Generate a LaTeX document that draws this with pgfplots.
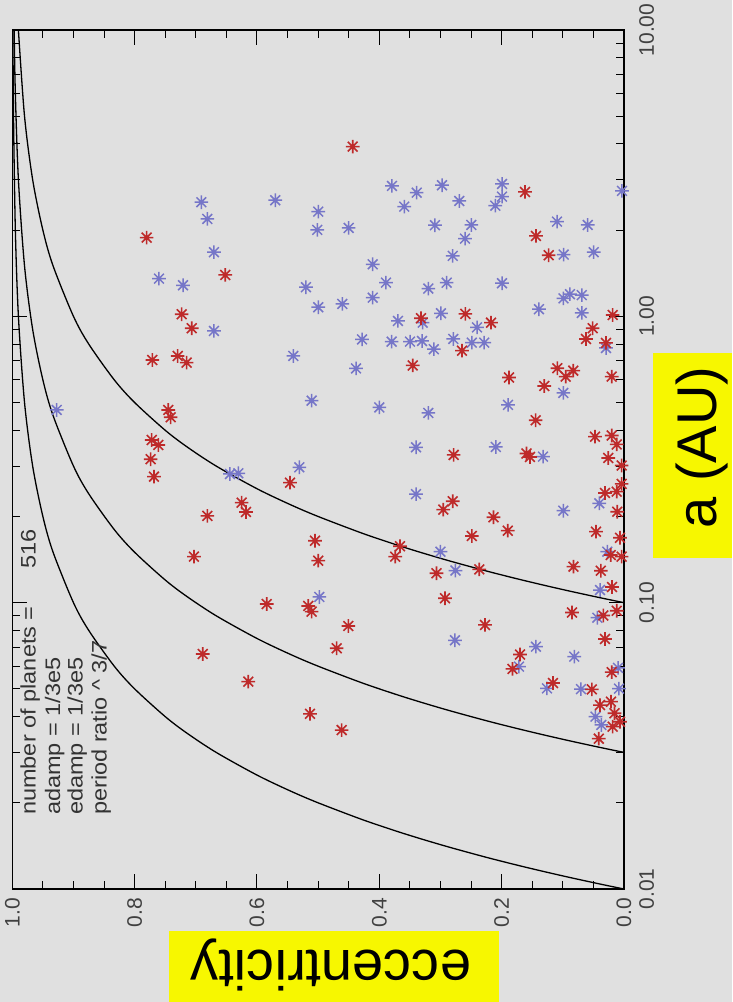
\documentclass[border=0pt]{standalone}
\usepackage{pgfplots}
\pgfplotsset{compat=1.18}
\usepackage{fontspec}
\setmainfont{Liberation Sans}
\newfontfamily\annfont[FakeStretch=1.12]{Liberation Sans}
\definecolor{bgc}{RGB}{224,224,224}
\definecolor{yel}{RGB}{247,247,0}
\definecolor{redc}{RGB}{190,42,42}
\definecolor{bluec}{RGB}{118,118,200}
\pgfdeclareplotmark{ast8}{%
  \pgfpathmoveto{\pgfqpoint{-\pgfplotmarksize}{0pt}}\pgfpathlineto{\pgfqpoint{\pgfplotmarksize}{0pt}}%
  \pgfpathmoveto{\pgfqpoint{0pt}{-\pgfplotmarksize}}\pgfpathlineto{\pgfqpoint{0pt}{\pgfplotmarksize}}%
  \pgfpathmoveto{\pgfqpoint{-0.72\pgfplotmarksize}{-0.72\pgfplotmarksize}}\pgfpathlineto{\pgfqpoint{0.72\pgfplotmarksize}{0.72\pgfplotmarksize}}%
  \pgfpathmoveto{\pgfqpoint{-0.72\pgfplotmarksize}{0.72\pgfplotmarksize}}\pgfpathlineto{\pgfqpoint{0.72\pgfplotmarksize}{-0.72\pgfplotmarksize}}%
  \pgfusepathqstroke}
\begin{document}
\begin{tikzpicture}[x=1pt,y=1pt]
\fill[bgc] (0,0) rectangle (732,1002);
\begin{axis}[
  at={(12.3pt,113pt)}, anchor=south west,
  scale only axis, width=611.7pt, height=859pt,
  xmin=0, xmax=1, x dir=reverse,
  ymode=log, ymin=0.01, ymax=10,
  axis line style={black, line width=1.1pt},
  tick align=inside,
  major tick length=15pt, minor tick length=8pt,
  tick style={black, line width=1pt},
  xtick={0,0.2,0.4,0.6,0.8,1.0},
  xticklabels={0.0,0.2,0.4,0.6,0.8,1.0},
  minor x tick num=3,
  ytick={0.01,0.1,1,10},
  yticklabels={0.01,0.10,1.00,10.00},
  yticklabel pos=right,
  xtick pos=both, ytick pos=both,
  xticklabel style={yshift=-9pt, rotate=90, anchor=east, inner sep=0pt, font=\fontsize{21}{25}\selectfont, text=black!75},
  yticklabel style={xshift=15pt, rotate=90, anchor=north, inner sep=0pt, font=\fontsize{21}{25}\selectfont, text=black!75},
  clip=true,
]
% blue planets
\addplot[only marks, mark=ast8, mark size=6.8pt, draw=bluec, mark options={line width=1.5pt}] coordinates {
(0.691,2.503) (0.5701,2.544) (0.4998,2.321) (0.6812,2.189) (0.5014,2.004) (0.4501,2.036)
(0.6703,1.675) (0.7602,1.354) (0.7209,1.284) (0.5199,1.264) (0.4998,1.076) (0.4605,1.105)
(0.6703,0.8892) (0.4283,0.8305) (0.3793,2.854) (0.3389,2.704) (0.2975,2.870) (0.3592,2.416)
(0.2693,2.529) (0.1994,2.900) (0.1994,2.619) (0.2104,2.435) (0.0033,2.742) (0.309,2.081)
(0.2496,2.085) (0.2599,1.868) (0.1095,2.142) (0.0593,2.085) (0.0986,1.643) (0.0495,1.675)
(0.28,1.626) (0.4108,1.520) (0.3891,1.311) (0.4108,1.162) (0.3199,1.250) (0.2899,1.311)
(0.1994,1.305) (0.139,1.059) (0.0989,1.155) (0.0883,1.195) (0.069,1.186) (0.069,1.028)
(0.3291,0.9506) (0.3695,0.9636) (0.2992,1.025) (0.2403,0.9147) (0.2791,0.8337) (0.3798,0.8159)
(0.3498,0.8159) (0.3302,0.8204) (0.3109,0.768) (0.2488,0.8093) (0.2285,0.8093) (0.0294,0.7754)
(0.5406,0.7272) (0.4381,0.6577) (0.0992,0.5402) (0.4,0.4808) (0.3199,0.4599) (0.1896,0.4905)
(0.5106,0.5077) (0.9274,0.471) (0.34,0.3489) (0.2096,0.3498) (0.1324,0.3236) (0.6441,0.2815)
(0.6305,0.2831) (0.5308,0.2971) (0.34,0.2393) (0.0992,0.2095) (0.0404,0.2224) (0.0273,0.1507)
(0.0392,0.1107) (0.0436,0.0886) (0.4981,0.1047) (0.3,0.1507) (0.2755,0.1295) (0.2763,0.0739)
(0.1439,0.0702) (0.0813,0.0648) (0.0098,0.0592) (0.1717,0.0598) (0.1259,0.0502) (0.0703,0.0499)
(0.0082,0.0501) (0.0466,0.0400) (0.0371,0.0374)
};
% red planets
\addplot[only marks, mark=ast8, mark size=6.8pt, draw=redc, mark options={line width=1.6pt}] coordinates {
(0.4435,3.915) (0.7803,1.884) (0.6518,1.395) (0.7231,1.017) (0.7067,0.9087) (0.7711,0.7041)
(0.7296,0.7272) (0.7149,0.689) (0.745,0.471) (0.7411,0.4443) (0.7721,0.3701) (0.7613,0.3555)
(0.7738,0.3170) (0.7684,0.2755) (0.546,0.2625) (0.625,0.2235) (0.618,0.2074) (0.6812,0.2009)
(0.5052,0.1646) (0.4998,0.1402) (0.703,0.1448) (0.5841,0.0989) (0.5161,0.0974) (0.5106,0.0930)
(0.4507,0.0829) (0.4697,0.0693) (0.6887,0.0662) (0.6142,0.0530) (0.5133,0.0409) (0.4615,0.0359)
(0.1618,2.719) (0.1439,1.909) (0.1231,1.635) (0.0185,1.011) (0.0512,0.9087) (0.3319,0.9847)
(0.2594,1.0195) (0.2174,0.9506) (0.0621,0.8337) (0.0294,0.8075) (0.2648,0.7588) (0.3454,0.6738)
(0.188,0.6117) (0.109,0.6587) (0.0829,0.6461) (0.0953,0.6157) (0.1303,0.5713) (0.0201,0.6157)
(0.1444,0.4337) (0.0474,0.3800) (0.0201,0.3837) (0.0119,0.3570) (0.1594,0.3320) (0.1537,0.3228)
(0.0257,0.3202) (0.0038,0.3014) (0.2784,0.3281) (0.28,0.226) (0.2954,0.2113) (0.2133,0.1988)
(0.19,0.1784) (0.2488,0.171) (0.0311,0.2416) (0.0119,0.2442) (0.0038,0.2598) (0.011,0.2078)
(0.0458,0.1770) (0.0065,0.1685) (0.0217,0.1467) (0.0038,0.1448) (0.0826,0.1336) (0.0379,0.1293)
(0.0196,0.1134) (0.085,0.0924) (0.0338,0.0902) (0.0119,0.0937) (0.0311,0.0747) (0.3662,0.1574)
(0.374,0.1448) (0.3065,0.1267) (0.2366,0.1307) (0.2926,0.1036) (0.2272,0.0836) (0.17,0.0659)
(0.1823,0.0587) (0.1161,0.0524) (0.0526,0.0498) (0.0201,0.0572) (0.0392,0.0439) (0.0213,0.0451)
(0.0155,0.0411) (0.0065,0.0384) (0.0185,0.0369) (0.0412,0.0335)
};
% constant periastron curves a(1-e) = 0.01, 0.03, 0.1
\addplot[black, line width=1.3pt, smooth] coordinates {
(0,0.01) (0.0196,0.0102) (0.0476,0.0105) (0.0909,0.011) (0.1304,0.0115) (0.1667,0.012) (0.2,0.0125)
(0.2308,0.013) (0.2857,0.014) (0.3333,0.015) (0.375,0.016) (0.4286,0.0175) (0.5,0.02) (0.5455,0.022)
(0.6,0.025) (0.6667,0.03) (0.7143,0.035) (0.75,0.04) (0.8,0.05) (0.8333,0.06) (0.875,0.08) (0.9,0.1)
(0.9333,0.15) (0.95,0.2) (0.9667,0.3) (0.98,0.5) (0.99,1) (0.995,2) (0.998,5) (0.999,10)
};
\addplot[black, line width=1.3pt, smooth] coordinates {
(0,0.03) (0.0196,0.0306) (0.0476,0.0315) (0.0909,0.033) (0.1304,0.0345) (0.1667,0.036) (0.2,0.0375)
(0.2308,0.039) (0.2857,0.042) (0.3333,0.045) (0.375,0.048) (0.4286,0.0525) (0.5,0.06) (0.5455,0.066)
(0.6,0.075) (0.6667,0.09) (0.7143,0.105) (0.75,0.12) (0.8,0.15) (0.8333,0.18) (0.875,0.24) (0.9,0.3)
(0.9333,0.45) (0.95,0.6) (0.9667,0.9) (0.98,1.5) (0.99,3) (0.995,6) (0.997,10)
};
\addplot[black, line width=1.3pt, smooth] coordinates {
(0,0.1) (0.0196,0.102) (0.0476,0.105) (0.0909,0.11) (0.1304,0.115) (0.1667,0.12) (0.2,0.125)
(0.2308,0.13) (0.2857,0.14) (0.3333,0.15) (0.375,0.16) (0.4286,0.175) (0.5,0.2) (0.5455,0.22)
(0.6,0.25) (0.6667,0.3) (0.7143,0.35) (0.75,0.4) (0.8,0.5) (0.8333,0.6) (0.875,0.8) (0.9,1)
(0.9333,1.5) (0.95,2) (0.9667,3) (0.98,5) (0.99,10)
};
\begin{scope}[every node/.style={rotate=90, anchor=base west, inner sep=0pt, font=\annfont\fontsize{21}{25}\selectfont, text=black!80}]
\node at (axis cs:0.962,0.01813) {number of planets =\hspace{38pt}516};
\node at (axis cs:0.922,0.01813) {adamp = 1/3e5};
\node at (axis cs:0.885,0.01813) {edamp = 1/3e5};
\node at (axis cs:0.8457,0.01813) {period ratio \textasciicircum\ 3/7};
\end{scope}
\end{axis}
\fill[yel] (652.7,444) rectangle (732,649.3);
\node[rotate=90, font=\fontsize{56}{60}\selectfont] at (702,554.5) {a (AU)};
\fill[yel] (169,0) rectangle (499,71.3);
\node[rotate=180, font=\fontsize{56}{60}\selectfont] at (331,37) {eccentricity};
\end{tikzpicture}
\end{document}
